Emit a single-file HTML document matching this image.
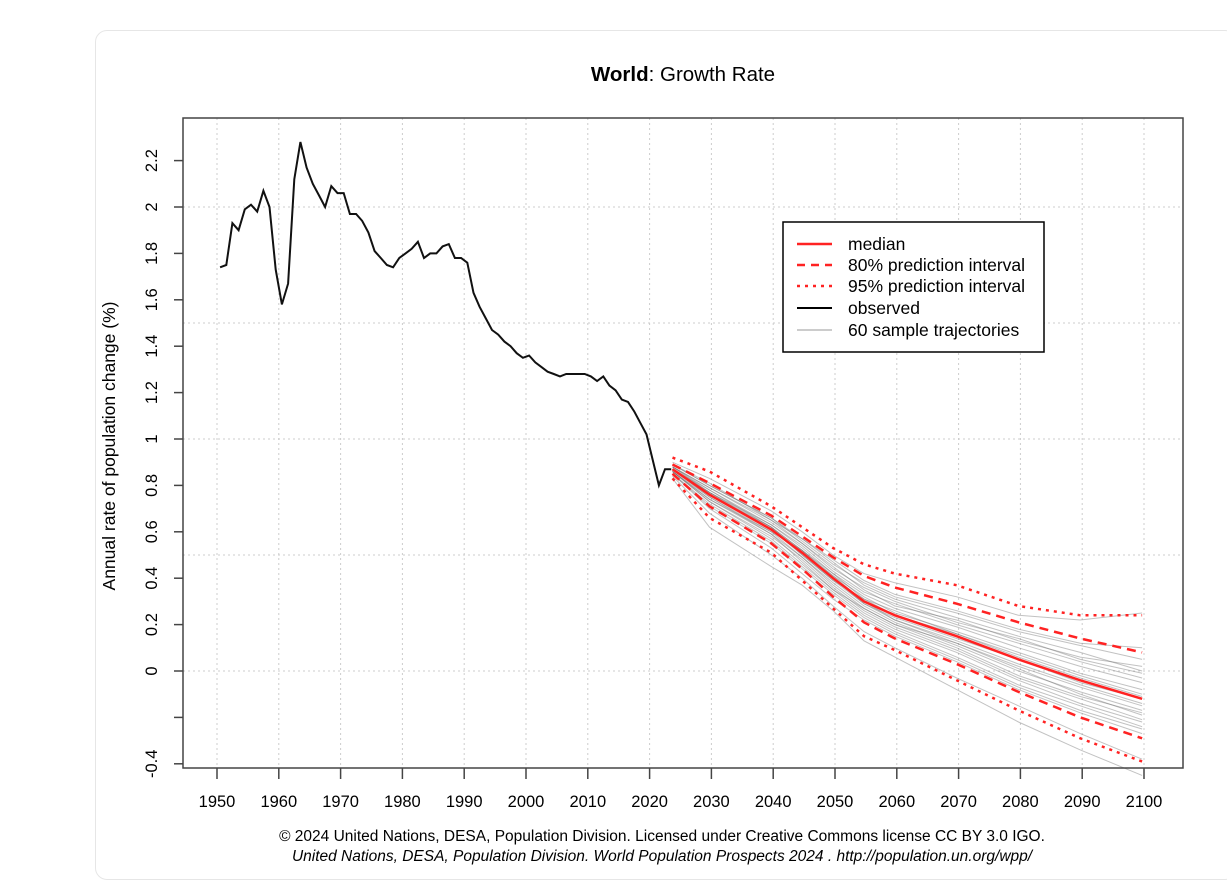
<!DOCTYPE html>
<html><head><meta charset="utf-8"><style>
body{margin:0;background:#fff;width:1227px;height:882px;overflow:hidden;font-family:"Liberation Sans",sans-serif}
#card{position:absolute;left:95px;top:30px;width:1140px;height:848px;border:1px solid #e6e6e6;border-radius:12px;background:#fff}
</style></head><body>
<div id="card"></div>
<svg id="chart" width="1227" height="882" style="position:absolute;left:0;top:0" font-family="Liberation Sans, sans-serif">
<text x="683" y="81" text-anchor="middle" font-size="20.5"><tspan font-weight="bold">World</tspan>: Growth Rate</text>
<text transform="translate(115,446) rotate(-90)" text-anchor="middle" font-size="17.5">Annual rate of population change (%)</text>
<text x="662" y="841" text-anchor="middle" font-size="15.5">© 2024 United Nations, DESA, Population Division. Licensed under Creative Commons license CC BY 3.0 IGO.</text>
<text x="662" y="861" text-anchor="middle" font-size="15.5" font-style="italic">United Nations, DESA, Population Division. World Population Prospects 2024 . http://population.un.org/wpp/</text>
<g id="grid"></g><g id="traj"></g><g id="series"></g><g id="axes"></g>
<g>
<rect x="783" y="222" width="261" height="130" fill="#fff" stroke="#000" stroke-width="1.5"/>
<line x1="797" y1="244" x2="832" y2="244" stroke="#f22" stroke-width="2.5"/>
<line x1="797" y1="265" x2="832" y2="265" stroke="#f22" stroke-width="2.5" stroke-dasharray="8,6"/>
<line x1="797" y1="286" x2="832" y2="286" stroke="#f22" stroke-width="2.5" stroke-dasharray="3,5"/>
<line x1="797" y1="308" x2="832" y2="308" stroke="#000" stroke-width="2"/>
<line x1="797" y1="330" x2="832" y2="330" stroke="#ccc" stroke-width="2"/>
<g font-size="17.5"><text x="848" y="250">median</text>
<text x="848" y="271">80% prediction interval</text>
<text x="848" y="292">95% prediction interval</text>
<text x="848" y="314">observed</text>
<text x="848" y="336">60 sample trajectories</text></g>
</g>
</svg>
<script>
const obsYears=[];for(let y=1950;y<=2023;y++)obsYears.push(y);
const observed=[1.74,1.75,1.93,1.90,1.99,2.01,1.98,2.07,2.00,1.73,1.58,1.67,2.12,2.28,2.17,2.10,2.05,2.00,2.09,2.06,2.06,1.97,1.97,1.94,1.89,1.81,1.78,1.75,1.74,1.78,1.80,1.82,1.85,1.78,1.80,1.80,1.83,1.84,1.78,1.78,1.76,1.63,1.57,1.52,1.47,1.45,1.42,1.40,1.37,1.35,1.36,1.33,1.31,1.29,1.28,1.27,1.28,1.28,1.28,1.28,1.27,1.25,1.27,1.23,1.21,1.17,1.16,1.12,1.07,1.02,0.91,0.80,0.87,0.87];
const projYears=[2024,2030,2040,2045,2050,2055,2060,2070,2080,2090,2100];
const median=[0.87,0.76,0.61,0.51,0.40,0.30,0.24,0.15,0.05,-0.04,-0.12];
const upper80=[0.89,0.81,0.67,0.58,0.49,0.41,0.36,0.29,0.21,0.14,0.08];
const lower80=[0.85,0.71,0.55,0.44,0.32,0.21,0.14,0.03,-0.09,-0.20,-0.29];
const upper95=[0.92,0.86,0.71,0.62,0.53,0.46,0.42,0.37,0.28,0.24,0.24];
const lower95=[0.83,0.66,0.51,0.39,0.27,0.15,0.09,-0.04,-0.17,-0.29,-0.39];
const trajectories=[
[0.88,0.78,0.63,0.53,0.42,0.33,0.27,0.19,0.10,0.02,-0.05],
[0.86,0.74,0.59,0.49,0.38,0.28,0.21,0.11,0.00,-0.09,-0.17],
[0.89,0.80,0.66,0.56,0.46,0.38,0.32,0.25,0.17,0.11,0.05],
[0.85,0.72,0.56,0.45,0.34,0.24,0.17,0.06,-0.06,-0.15,-0.24],
[0.87,0.77,0.62,0.50,0.39,0.31,0.26,0.16,0.07,-0.02,-0.10],
[0.88,0.79,0.64,0.55,0.45,0.35,0.28,0.22,0.13,0.06,0.02],
[0.86,0.73,0.58,0.48,0.36,0.26,0.19,0.09,-0.03,-0.12,-0.21],
[0.87,0.75,0.60,0.52,0.41,0.30,0.22,0.13,0.03,-0.06,-0.14],
[0.90,0.83,0.69,0.60,0.50,0.42,0.38,0.32,0.24,0.22,0.25],
[0.84,0.68,0.50,0.40,0.28,0.17,0.10,-0.03,-0.15,-0.27,-0.38],
[0.87,0.76,0.61,0.51,0.41,0.32,0.25,0.17,0.08,-0.01,-0.08],
[0.86,0.74,0.60,0.49,0.37,0.27,0.20,0.12,0.01,-0.10,-0.19],
[0.88,0.77,0.63,0.54,0.43,0.34,0.29,0.20,0.12,0.04,-0.03],
[0.85,0.70,0.53,0.42,0.31,0.22,0.15,0.04,-0.08,-0.18,-0.27],
[0.87,0.78,0.62,0.52,0.40,0.29,0.23,0.14,0.05,-0.05,-0.12],
[0.89,0.81,0.65,0.57,0.47,0.37,0.31,0.23,0.15,0.08,0.00],
[0.86,0.75,0.59,0.47,0.35,0.25,0.18,0.08,-0.04,-0.14,-0.22],
[0.83,0.62,0.45,0.37,0.26,0.13,0.06,-0.08,-0.22,-0.34,-0.45],
[0.87,0.76,0.62,0.52,0.42,0.31,0.24,0.16,0.06,-0.03,-0.11],
[0.88,0.79,0.65,0.55,0.44,0.36,0.30,0.21,0.14,0.05,-0.01],
[0.86,0.73,0.57,0.46,0.35,0.27,0.20,0.10,-0.02,-0.11,-0.18],
[0.87,0.77,0.61,0.50,0.39,0.29,0.22,0.12,0.02,-0.07,-0.15],
[0.89,0.80,0.66,0.57,0.48,0.39,0.33,0.26,0.18,0.12,0.10],
[0.85,0.71,0.55,0.44,0.33,0.23,0.16,0.05,-0.07,-0.17,-0.25]];
const xTicks=[1950,1960,1970,1980,1990,2000,2010,2020,2030,2040,2050,2060,2070,2080,2090,2100];
const yTicks=[-0.4,-0.2,0,0.2,0.4,0.6,0.8,1,1.2,1.4,1.6,1.8,2,2.2];
const yLabels=["-0.4","","0","0.2","0.4","0.6","0.8","1","1.2","1.4","1.6","1.8","2","2.2"];
const yGrid=[0,0.5,1,1.5,2];
const X=v=>217+(v-1950)*927/150;
const Y=v=>671-v*232;
const NS='http://www.w3.org/2000/svg';
function mk(tag,attrs,parent){const e=document.createElementNS(NS,tag);for(const k in attrs)e.setAttribute(k,attrs[k]);document.getElementById(parent).appendChild(e);return e;}
const L=183,R=1183,T=118,B=768;
xTicks.forEach(t=>{const g=mk('line',{x1:X(t),x2:X(t),y1:T,y2:B,stroke:'#ccc','stroke-dasharray':'2,3'},'grid');

});
yGrid.forEach(t=>{const g=mk('line',{x1:L,x2:R,y1:Y(t),y2:Y(t),stroke:'#ccc','stroke-dasharray':'2,3'},'grid');

});
const pts=(xs,ys,off)=>ys.map((v,i)=>X(xs[i]+off).toFixed(1)+','+Y(v).toFixed(1)).join(' ');
trajectories.forEach(tr=>{const p=mk('polyline',{points:pts(projYears,tr,-0.3),fill:'none',stroke:'#666','stroke-opacity':0.4,'stroke-width':1},'traj');

});
const ob=mk('polyline',{points:pts(obsYears,observed,0.5),fill:'none',stroke:'#111','stroke-width':2},'series');


[[upper95,'3,5','upper-95-line'],[lower95,'3,5','lower-95-line'],[upper80,'9,6','upper-80-line'],[lower80,'9,6','lower-80-line'],[median,'','median-line']].forEach(s=>{
const p=mk('polyline',{points:pts(projYears,s[0],-0.3),fill:'none',stroke:'#f22','stroke-width':2.5,'stroke-dasharray':s[1]||'none'},'series');

});
const fr=mk('rect',{x:L,y:T,width:R-L,height:B-T,fill:'none',stroke:'#444','stroke-width':1.5},'axes');


xTicks.forEach(t=>{mk('line',{x1:X(t),x2:X(t),y1:B,y2:B+11,stroke:'#444','stroke-width':1.5},'axes');
const tx=mk('text',{x:X(t),y:807,'text-anchor':'middle','font-size':16.5},'axes');tx.textContent=t;

});
yTicks.forEach((t,i)=>{mk('line',{x1:L-9,x2:L,y1:Y(t),y2:Y(t),stroke:'#444','stroke-width':1.5},'axes');
const tx=mk('text',{x:0,y:0,'text-anchor':'middle','font-size':16.5,transform:`translate(157,${Y(t)}) rotate(-90)`},'axes');tx.textContent=yLabels[i];

});
</script>
</body></html>
